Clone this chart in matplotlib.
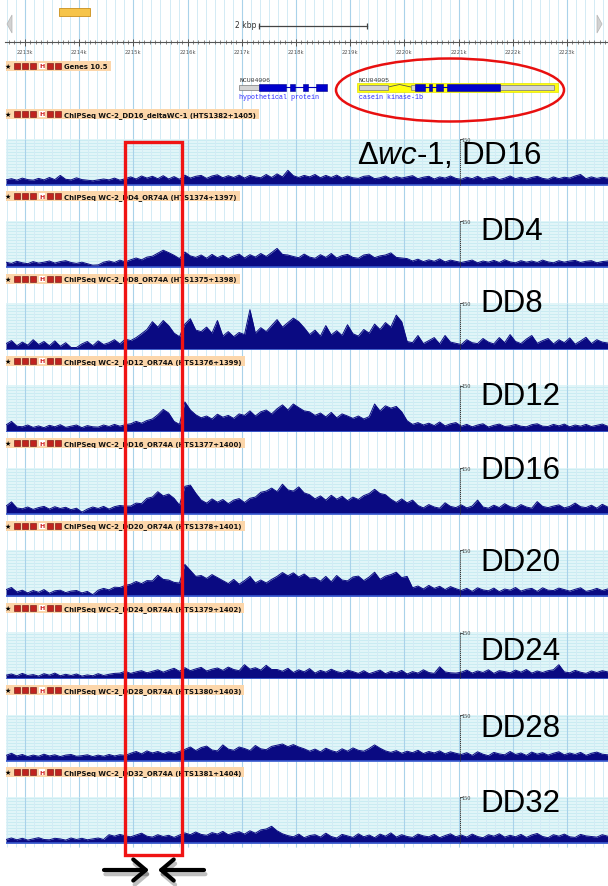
import numpy as np
import matplotlib
matplotlib.use("Agg")
import matplotlib.pyplot as plt
from matplotlib.patches import Rectangle, Ellipse, Polygon
import matplotlib.patheffects as pe

plt.rcParams['mathtext.fontset'] = 'custom'
plt.rcParams['mathtext.it'] = 'Liberation Sans:italic'
plt.rcParams['mathtext.rm'] = 'Liberation Sans'

# ------------------------------------------------------------------ data
bin_start_kb = 2212.65          # genomic position (kb) of the first bin
bin_size_kb = 0.1               # bin width (kb)
ruler_kb = list(range(2213, 2224))
scale_max = 150                 # browser track scale

sig_dwc1_dd16 = [12,16,11,18,13,11,17,12,20,13,
                 27,14,12,19,13,11,9,12,15,12,18,11,16,
                 22,15,25,18,24,16,26,15,23,14,
                 28,18,24,27,17,25,29,19,26,20,28,18,27,22,19,30,20,
                 32,22,44,26,20,27,
                 22,30,19,27,20,28,18,25,19,17,24,26,16,
                 19,25,16,23,18,22,26,16,21,24,15,22,18,25,17,
                 14,21,16,24,15,20,23,13,18,25,16,21,15,20,24,17,14,22,16,21,18,25,30,16,22,17,21,18]
sig_dd4 = [12,8,15,10,7,14,9,12,16,9,14,17,11,8,12,7,
           2,3,
           12,16,11,19,13,
           20,26,20,29,32,42,52,44,35,24,
           46,33,
           28,36,25,38,27,35,24,33,39,26,37,29,41,31,44,
           58,38,36,
           31,27,39,29,25,37,28,41,26,34,38,28,25,36,39,27,33,36,43,28,26,
           24,16,22,14,20,15,23,13,19,15,
           11,15,19,10,16,12,18,11,20,13,10,17,12,16,11,19,13,10,17,12,16,18,11,15,17,10,14,16]
sig_dd8 = [15,25,8,20,10,28,12,22,8,24,6,18,
           2,2,
           14,22,8,24,12,18,28,14,30,
           25,35,48,62,88,70,92,75,50,38,
           80,98,60,
           55,70,50,
           92,
           40,55,38,52,45,
           128,
           50,68,55,75,
           95,70,85,100,88,68,
           45,60,40,75,44,58,42,78,48,40,62,50,
           80,62,85,70,110,88,
           22,18,42,15,25,35,14,42,20,16,
           12,28,18,15,32,20,14,35,18,45,22,15,30,42,16,25,32,14,28,18,34,13,24,36,15,28,20,17]
sig_dd12 = [18,30,14,12,18,10,15,9,17,12,19,10,14,18,9,16,12,11,18,13,20,14,19,
            22,30,24,33,38,
            52,70,58,
            30,20,
            95,68,
            52,42,48,38,54,44,50,40,55,
            50,65,48,62,68,55,
            72,85,68,88,76,65,
            62,50,58,45,60,42,55,48,
            40,48,38,46,
            88,65,82,74,80,62,
            32,20,26,18,24,16,28,15,22,26,
            14,20,12,18,22,11,17,21,13,15,20,14,12,19,22,14,13,20,15,21,12,18,14,20,13,17,21,14]
sig_dd16 = [22,36,16,13,19,11,17,21,12,20,14,18,10,15,2,12,19,14,21,12,20,24,22,
            22,32,30,48,52,70,56,62,48,25,
            88,92,65,
            42,32,46,35,44,30,42,47,34,48,
            52,68,72,82,70,95,76,72,86,66,
            60,46,56,42,58,45,55,40,52,44,57,64,
            78,64,60,
            45,34,46,33,42,
            24,16,27,19,15,33,21,17,26,16,22,42,19,15,25,17,30,20,16,27,19,15,37,21,17,22,26,16,21,32,20,17,25,15,28,19]
sig_dd20 = [18,25,10,16,7,15,9,18,6,14,16,8,13,15,7,12,1,
            16,22,17,26,25,32,
            36,45,38,48,47,66,52,50,42,40,
            102,82,62,
            65,55,68,58,
            48,38,52,36,48,62,40,50,40,52,
            62,75,64,74,60,70,56,
            58,46,62,44,65,50,47,60,63,48,60,76,52,63,68,76,58,62,
            24,30,20,32,22,29,18,28,21,
            15,22,12,24,17,14,23,11,20,16,25,13,19,22,12,24,16,15,23,18,13,19,24,12,16,22,15,20]
sig_dd24 = [7,11,5,13,6,9,4,12,7,14,5,10,6,11,4,8,5,12,6,10,13,
            14,20,13,18,22,15,20,25,17,
            24,30,20,32,22,28,33,21,27,31,23,34,26,22,42,27,32,24,40,26,
            26,20,30,16,25,18,29,14,23,17,27,19,15,24,
            19,13,22,12,18,24,12,20,15,23,11,19,14,25,16,13,35,18,15,14,
            17,24,14,21,16,25,13,22,19,15,24,17,26,14,21,16,22,25,42,18,15,23,17,13,21,16,22,18]
sig_dd28 = [14,21,12,17,10,15,11,18,12,16,10,15,17,11,13,16,10,15,11,17,12,16,14,
            21,27,19,29,22,27,20,26,21,27,
            34,42,30,40,45,32,29,49,35,31,42,37,30,47,36,33,44,
            48,52,43,50,42,
            36,28,35,26,38,30,25,36,28,39,31,28,37,
            49,
            38,29,24,30,21,28,23,31,20,27,22,29,19,26,21,
            17,23,14,26,18,13,24,19,16,27,17,22,14,25,18,23,15,21,26,16,22,17,24,14,21,25,18,16]
sig_dd32 = [8,13,7,12,6,10,14,8,7,12,10,6,13,8,12,7,10,13,8,
            24,19,25,20,
            17,23,29,19,16,24,18,22,15,23,
            30,24,33,25,22,31,26,35,24,30,34,26,37,29,40,43,52,
            37,27,21,17,26,14,21,24,16,29,18,13,25,20,15,27,17,23,14,26,19,30,16,24,18,15,26,20,17,25,14,21,27,17,
            23,16,26,18,14,24,19,27,16,22,17,25,15,23,28,18,14,24,19,26,17,15,25,20,18,16,24,19]

track_signals = [sig_dwc1_dd16, sig_dd4, sig_dd8, sig_dd12, sig_dd16,
                 sig_dd20, sig_dd24, sig_dd28, sig_dd32]
track_titles = ["ChIPSeq WC-2_DD16_deltaWC-1 (HTS1382+1405)",
                "ChIPSeq WC-2_DD4_OR74A (HTS1374+1397)",
                "ChIPSeq WC-2_DD8_OR74A (HTS1375+1398)",
                "ChIPSeq WC-2_DD12_OR74A (HTS1376+1399)",
                "ChIPSeq WC-2_DD16_OR74A (HTS1377+1400)",
                "ChIPSeq WC-2_DD20_OR74A (HTS1378+1401)",
                "ChIPSeq WC-2_DD24_OR74A (HTS1379+1402)",
                "ChIPSeq WC-2_DD28_OR74A (HTS1380+1403)",
                "ChIPSeq WC-2_DD32_OR74A (HTS1381+1404)"]
track_big_labels = ["Δ$\\mathit{wc}$-1, DD16", "DD4", "DD8", "DD12", "DD16",
                    "DD20", "DD24", "DD28", "DD32"]

gene_ncu04006_utr = [(2216.95, 2217.32)]
gene_ncu04006_cds = [(2217.32, 2217.82), (2217.89, 2217.98), (2218.13, 2218.22), (2218.37, 2218.57)]
gene_ncu04005_utr = [(2219.16, 2219.70), (2220.12, 2220.20), (2221.76, 2222.76)]
gene_ncu04005_cds = [(2220.20, 2220.38), (2220.45, 2220.51), (2220.58, 2220.71), (2220.79, 2221.76)]
gene_ncu04005_intron = (2219.70, 2220.12)
gene_ncu04005_highlight = (2219.12, 2222.83)
highlight_region_kb = (2214.85, 2215.90)   # red box
scale_marker_kb = 2221.02

# ------------------------------------------------------------------ layout
W, H, DPI = 608, 887, 100
PX0, PXK = 25.0, 54.2
def kb(px):
    return 2213 + (px - PX0) / PXK
def kw(px):
    return px / PXK

label_y = [115 + 82.3 * k for k in range(9)]
baseline_y = [y + 69.5 for y in label_y]
big_label_y = [156, 232, 304, 397, 471, 563, 652, 729, 804]
big_label_x = [357] + [480] * 8

NAVY = '#0a0a82'
GRID_MINOR = '#d3ebf5'
GRID_MAJOR = '#a9d2ea'
BAND = '#e1f5f8'
BAND_LINE = '#c6ebf2'
LABEL_BG = '#fcd6aa'
RED = '#f01414'

fig = plt.figure(figsize=(W / DPI, H / DPI), dpi=DPI)
fig.patch.set_facecolor('white')
bg = fig.add_axes([0, 0, 1, 1], zorder=0)
bg.set_xlim(kb(0), kb(W))
bg.set_ylim(H, 0)
bg.axis('off')

grid_minor = np.arange(2212 + 4 / 6, 2223.76, 1 / 6)
grid_major = np.arange(2213, 2224, 1)
bg.vlines(grid_minor, 0, 848, colors=GRID_MINOR, lw=0.7, zorder=1)
bg.vlines(grid_major, 0, 848, colors=GRID_MAJOR, lw=0.8, zorder=1)

# top navigation
bg.add_patch(Rectangle((kb(59), 9), kw(31), 8, fc='#f6c44a', ec='#c98f1c', lw=0.6, zorder=3))
bg.add_patch(Polygon([[kb(7), 25], [kb(12), 16], [kb(12), 34]], closed=True,
                     fc='#d2d2d2', ec='#b5b5b5', lw=0.5, zorder=3))
bg.add_patch(Polygon([[kb(602), 25], [kb(597), 16], [kb(597), 34]], closed=True,
                     fc='#d2d2d2', ec='#b5b5b5', lw=0.5, zorder=3))
bg.text(kb(256), 25, '2 kbp', ha='right', va='center', fontsize=5.5, color='#333',
        family='DejaVu Sans', zorder=3)
sb0 = kb(259)
bg.plot([sb0, sb0 + 2], [27, 27], color='#444', lw=0.9, zorder=3)
bg.vlines([sb0, sb0 + 2], 24, 30, colors='#444', lw=0.9, zorder=3)

# ruler
bg.plot([kb(5), kb(W)], [43, 43], color='#555', lw=0.8, zorder=3)
bg.vlines(np.arange(2212.7, 2223.75, 0.1), 41, 45, colors='#555', lw=0.5, zorder=3)
bg.vlines(ruler_kb, 39.5, 46.5, colors='#555', lw=0.7, zorder=3)
for r in ruler_kb:
    bg.text(r, 52, f'{r}k', ha='center', va='center', fontsize=3.8, color='#555', zorder=3)


def label_bar(y, text):
    bg.text(kb(8), y, '★', fontsize=5, ha='center', va='center', color='k', zorder=7)
    for cx in [17, 25, 33, 50, 58]:
        bg.add_patch(Rectangle((kb(cx - 3), y - 3), kw(6), 6, fc='#c0231f', ec='#6d0f0f',
                               lw=0.4, zorder=7))
    bg.add_patch(Rectangle((kb(38.5), y - 3), kw(6), 6, fc='white', ec='none', zorder=7))
    bg.text(kb(41.5), y, 'H', fontsize=4.5, ha='center', va='center', color='#d02020',
            fontweight='bold', zorder=8)
    t = bg.text(kb(64), y + 0.3, text, fontsize=4.95, fontweight='bold', ha='left', va='center',
                color='#111', family='DejaVu Sans', zorder=7)
    return t


label_texts = [(67, label_bar(67, 'Genes 10.5'))]
for k in range(9):
    label_texts.append((label_y[k], label_bar(label_y[k], track_titles[k])))
fig.canvas.draw()
for y, t in label_texts:
    bb = t.get_window_extent()
    bg.add_patch(Rectangle((kb(6), y - 5), kb(bb.x1 + 3) - kb(6), 10, fc=LABEL_BG, ec='none',
                           zorder=5))

# genes
gy = 88
bg.add_patch(Rectangle((gene_ncu04005_highlight[0], gy - 4.5),
                       gene_ncu04005_highlight[1] - gene_ncu04005_highlight[0], 9.5,
                       fc='#ffff10', ec='#e5e500', lw=0.5, zorder=3))
bg.plot([gene_ncu04006_cds[0][1], gene_ncu04006_cds[-1][0]], [gy, gy], color='#0000c0', lw=0.8, zorder=4)
i0, i1 = gene_ncu04005_intron
bg.plot([i0, (i0 + i1) / 2, i1], [gy, gy - 2.5, gy], color='#555', lw=0.6, zorder=4)
bg.plot([gene_ncu04005_cds[0][1], gene_ncu04005_cds[-1][0]], [gy, gy], color='#0000c0', lw=0.8, zorder=4)
for s, e in gene_ncu04006_utr + gene_ncu04005_utr:
    bg.add_patch(Rectangle((s, gy - 2.5), e - s, 5, fc='#d4d4d4', ec='#7a7a7a', lw=0.5, zorder=5))
for s, e in gene_ncu04006_cds + gene_ncu04005_cds:
    bg.add_patch(Rectangle((s, gy - 3.5), e - s, 7, fc='#0000cc', ec='#00008a', lw=0.4, zorder=5))
for x0, name, desc in [(gene_ncu04006_utr[0][0], 'NCU04006', 'hypothetical protein'),
                       (gene_ncu04005_utr[0][0], 'NCU04005', 'casein kinase-1b')]:
    bg.text(x0, 80, name, fontsize=4.6, family='Liberation Mono', color='#333', va='center', zorder=5)
    bg.text(x0, 97.5, desc, fontsize=4.8, family='Liberation Mono', color='#2a2aff', va='center', zorder=5)

# tracks
xs = bin_start_kb + bin_size_kb * np.arange(len(sig_dd4))
ymin = -6.67
for k, vals in enumerate(track_signals):
    base = baseline_y[k]
    top = base - 45
    bottom = base + 2
    ax = fig.add_axes([6 / W, 1 - bottom / H, (W - 6) / W, (bottom - top) / H], zorder=1)
    ax.set_xlim(kb(6), kb(W))
    ax.set_ylim(ymin, scale_max)
    ax.set_facecolor(BAND)
    for s in ax.spines.values():
        s.set_visible(False)
    ax.set_xticks([])
    ax.set_yticks([])
    ax.hlines(np.arange(5, scale_max, 10), kb(6), kb(W), colors=BAND_LINE, lw=0.6, zorder=1)
    ax.vlines(grid_minor, ymin, scale_max, colors=GRID_MINOR, lw=0.7, zorder=1)
    ax.vlines(grid_major, ymin, scale_max, colors=GRID_MAJOR, lw=0.8, zorder=1)
    v = np.array(vals, dtype=float)
    ax.fill_between(xs, -3, v, color=NAVY, lw=0, zorder=3)
    ax.plot(xs, v, color=NAVY, lw=0.7, zorder=3)
    ax.axhline(-4.8, color='#3a5ad0', lw=1.2, zorder=4)
    # scale marker
    ax.plot([scale_marker_kb, scale_marker_kb], [-5, scale_max], color='#333', lw=0.7,
            ls=(0, (1.2, 0.8)), zorder=5)
    ax.plot([scale_marker_kb, scale_marker_kb + kw(2)], [scale_max - 1, scale_max - 1],
            color='#333', lw=0.6, zorder=5)
    ax.text(scale_marker_kb + kw(2), scale_max - 2, '150', fontsize=3.5, family='DejaVu Serif',
            color='#333', va='center', ha='left', zorder=5)

# overlay annotations
ov = fig.add_axes([0, 0, 1, 1], zorder=3)
ov.set_xlim(kb(0), kb(W))
ov.set_ylim(H, 0)
ov.axis('off')
ov.patch.set_alpha(0)

for k, lab in enumerate(track_big_labels):
    ov.text(kb(big_label_x[k]), big_label_y[k], lab, fontsize=22.5, family='Liberation Sans',
            ha='left', va='center', color='black')

hs, he = highlight_region_kb
ov.add_patch(Rectangle((hs, 143), he - hs, 713, fill=False, ec=RED, lw=2.4, zorder=5))
ov.add_patch(Ellipse((kb(450), 91), kw(228), 63, fill=False, ec='#e81010', lw=1.8, zorder=5))

for x_from, x_to in [(104, 149), (204, 158)]:
    ann = ov.annotate('', xy=(kb(x_to), 871), xytext=(kb(x_from), 871),
                      arrowprops=dict(arrowstyle='->,head_length=0.45,head_width=0.38',
                                      lw=3.0, color='black', mutation_scale=20,
                                      shrinkA=0, shrinkB=0))
    ann.arrow_patch.set_path_effects([pe.SimpleLineShadow(offset=(1, -3), shadow_color='black',
                                                          alpha=0.25), pe.Normal()])

fig.savefig('out.png', dpi=DPI, facecolor='white')
